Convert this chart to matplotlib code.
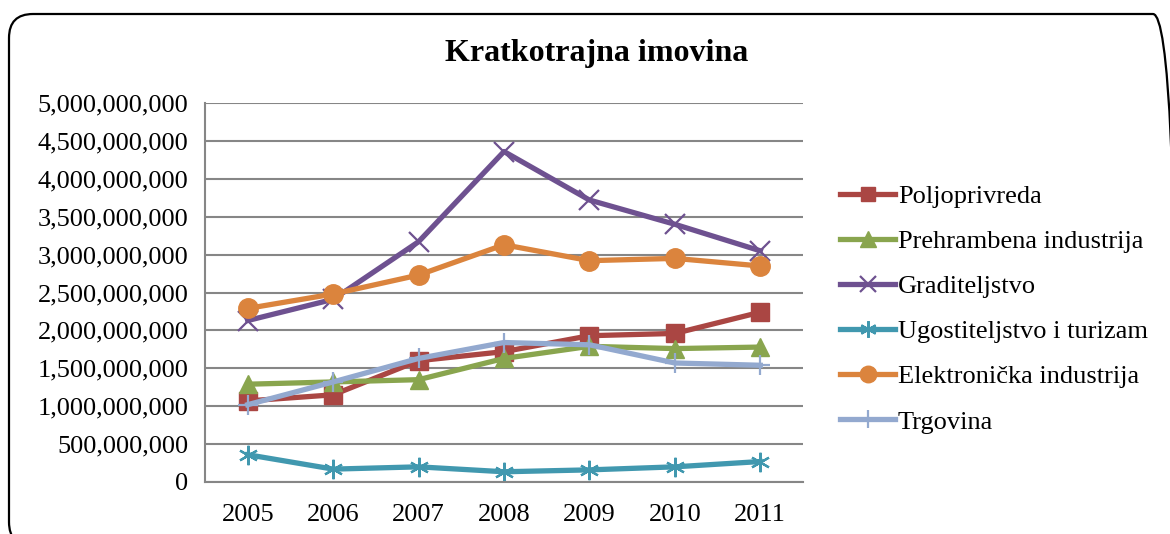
import matplotlib
matplotlib.use("Agg")
import matplotlib.pyplot as plt
from matplotlib.patches import FancyBboxPatch
from matplotlib.ticker import FuncFormatter, MultipleLocator

years = ["2005", "2006", "2007", "2008", "2009", "2010", "2011"]
poljoprivreda = [1.07e9, 1.15e9, 1.60e9, 1.72e9, 1.93e9, 1.96e9, 2.24e9]
prehrambena = [1.29e9, 1.32e9, 1.35e9, 1.63e9, 1.79e9, 1.76e9, 1.78e9]
graditeljstvo = [2.13e9, 2.41e9, 3.17e9, 4.36e9, 3.72e9, 3.40e9, 3.05e9]
ugostiteljstvo = [0.36e9, 0.17e9, 0.20e9, 0.135e9, 0.16e9, 0.20e9, 0.27e9]
elektronicka = [2.29e9, 2.48e9, 2.73e9, 3.13e9, 2.92e9, 2.95e9, 2.85e9]
trgovina = [1.02e9, 1.32e9, 1.63e9, 1.84e9, 1.81e9, 1.57e9, 1.54e9]

series_names = ["Poljoprivreda", "Prehrambena industrija", "Graditeljstvo",
                "Ugostiteljstvo i turizam", "Elektronička industrija", "Trgovina"]
series_values = [poljoprivreda, prehrambena, graditeljstvo, ugostiteljstvo, elektronicka, trgovina]
colors = ["#AA4643", "#89A54E", "#6E5190", "#4198AF", "#DB843D", "#93A9CF"]
markers = ["s", "^", "x", "*", "o", "+"]
msizes = [12.5, 13, 14, 14, 14, 15]

plt.rcParams['font.family'] = ['Liberation Serif', 'DejaVu Serif']

fig = plt.figure(figsize=(11.7, 5.34), dpi=100)
W, H = 1170, 534

# background axes in pixel coordinates for the rounded border
bg = fig.add_axes([0, 0, 1, 1])
bg.set_xlim(0, W)
bg.set_ylim(0, H)
bg.axis("off")
border = FancyBboxPatch((9, -12), 1168, (H - 14) + 12,
                        boxstyle="round,pad=0,rounding_size=24",
                        fill=False, edgecolor="black", linewidth=1.6)
bg.add_patch(border)

ax = fig.add_axes([205 / W, (H - 482) / H, 598 / W, 379 / H])
x = list(range(len(years)))
for name, vals, c, m, ms in zip(series_names, series_values, colors, markers, msizes):
    if m in ("x", "+", "*"):
        mk = {"x": "x", "+": "+", "*": (6, 2, 0)}[m]
        ax.plot(x, vals, color=c, linewidth=3.8, marker=mk, markersize=ms,
                markeredgewidth=1.6, markeredgecolor=c, label=name, solid_joinstyle="round")
    else:
        ax.plot(x, vals, color=c, linewidth=3.8, marker=m, markersize=ms,
                markeredgecolor=c, markerfacecolor=c, label=name, solid_joinstyle="round")

ax.set_xlim(-0.5, 6.5)
ax.set_ylim(0, 5e9)
ax.yaxis.set_major_locator(MultipleLocator(5e8))
ax.yaxis.set_major_formatter(FuncFormatter(lambda v, p: f"{int(round(v)):,}"))
ax.set_xticks(x)
ax.set_xticklabels(years)
ax.grid(axis="y", color="#868686", linewidth=1.5)
ax.set_axisbelow(True)
for s in ("top", "right"):
    ax.spines[s].set_visible(False)
for s in ("left", "bottom"):
    ax.spines[s].set_color("#868686")
    ax.spines[s].set_linewidth(1.5)
ax.tick_params(axis="both", length=0, labelsize=19, colors="black")
ax.tick_params(axis="y", pad=12)
ax.tick_params(axis="x", pad=16)

fig.text(597 / W, 1 - 54 / H, "Kratkotrajna imovina", ha="center", va="center",
         fontsize=23, fontweight="bold")

leg = ax.legend(loc="center left", bbox_to_anchor=(840 / W, 1 - 309 / H),
                bbox_transform=fig.transFigure, frameon=False, fontsize=19,
                handlelength=2.1, handletextpad=0.1, labelspacing=0.82,
                borderaxespad=0, borderpad=0, markerscale=0.85)

fig.savefig("out.png", dpi=100)
